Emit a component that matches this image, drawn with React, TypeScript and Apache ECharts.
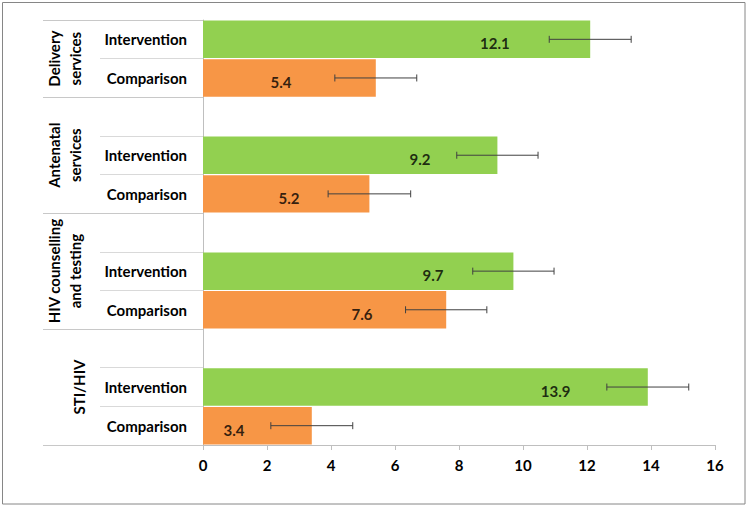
import React, { useEffect, useRef } from 'react';
import * as echarts from 'echarts';

// ---- data ----
const groups = ['Delivery\nservices', 'Antenatal\nservices', 'HIV counselling\nand testing', 'STI/HIV'];
const armLabels = ['Intervention', 'Comparison'];
const intervention = [12.1, 9.2, 9.7, 13.9];
const comparison = [5.4, 5.2, 7.6, 3.4];
const interventionErr = [1.28, 1.27, 1.27, 1.28];
const comparisonErr = [1.28, 1.29, 1.27, 1.28];
// x-value where each value label sits (as in the picture)
const interventionLabelAt = [9.12, 6.78, 7.19, 11.02];
const comparisonLabelAt = [2.44, 2.69, 4.97, 0.97];
const xMin = 0;
const xMax = 16;
const xInterval = 2;

const FONT = 'Lato';

export default function App() {
  const ref = useRef<HTMLDivElement>(null);

  useEffect(() => {
    document.body.style.margin = '0';
    if (!ref.current) return;
    const chart = echarts.init(ref.current, undefined, { renderer: 'svg' });

    const slotCount = groups.length * 3 - 1;
    const slots: string[] = new Array(slotCount).fill('');
    const intData: any[] = new Array(slotCount).fill('-');
    const compData: any[] = new Array(slotCount).fill('-');
    const errData: any[] = [];
    const labelData: any[] = [];
    groups.forEach((_, i) => {
      const si = 3 * i;
      const sc = 3 * i + 1;
      slots[si] = armLabels[0];
      slots[sc] = armLabels[1];
      intData[si] = intervention[i];
      compData[sc] = comparison[i];
      errData.push([intervention[i] - interventionErr[i], intervention[i] + interventionErr[i], si]);
      errData.push([comparison[i] - comparisonErr[i], comparison[i] + comparisonErr[i], sc]);
      labelData.push([interventionLabelAt[i], si, intervention[i]]);
      labelData.push([comparisonLabelAt[i], sc, comparison[i]]);
    });
    const boundaries = [0, ...groups.slice(1).map((_, i) => 3 * (i + 1) - 1), slotCount];
    const groupCenters = groups.map((_, i) => (boundaries[i] + boundaries[i + 1]) / 2);

    const option: any = {
      animation: false,
      backgroundColor: '#ffffff',
      textStyle: { fontFamily: FONT },
      graphic: [
        {
          type: 'rect',
          shape: { x: 2.5, y: 2.5, width: 742.5, height: 501.5 },
          style: { fill: 'none', stroke: '#868686', lineWidth: 1 },
          silent: true,
          z: -1,
        },
      ],
      grid: { left: 203, right: 33, top: 20, bottom: 61, containLabel: false, outerBoundsMode: 'none' },
      xAxis: {
        type: 'value',
        min: xMin,
        max: xMax,
        interval: xInterval,
        axisLine: { show: true, onZero: false, lineStyle: { color: '#bfbfbf', width: 1 } },
        axisTick: { show: true, length: 5, lineStyle: { color: '#bfbfbf' } },
        splitLine: { show: false },
        axisLabel: { fontFamily: FONT, fontWeight: 'bold', fontSize: 15, color: '#000', margin: 12 },
      },
      yAxis: [
        {
          type: 'category',
          inverse: true,
          data: slots,
          position: 'left',
          axisLine: { show: true, lineStyle: { color: '#bfbfbf' } },
          axisTick: { show: true, interval: 0, length: 103, lineStyle: { color: '#d9d9d9' } },
          axisLabel: { interval: 0, margin: 16, fontFamily: FONT, fontWeight: 'bold', fontSize: 15, color: '#000' },
        },
        {
          type: 'value',
          inverse: true,
          min: 0,
          max: slotCount,
          position: 'left',
          axisLine: { show: false },
          splitLine: { show: false },
          axisTick: { show: true, customValues: boundaries, length: 160, lineStyle: { color: '#c8c8c8' } },
          axisLabel: {
            customValues: groupCenters,
            rotate: 90,
            margin: 118,
            fontFamily: FONT,
            fontWeight: 'bold',
            fontSize: 15,
            lineHeight: 21,
            color: '#000',
            rich: {
              one: {
                fontFamily: FONT,
                fontWeight: 'bold',
                fontSize: 15,
                lineHeight: 21,
                color: '#000',
                padding: [9, 0, 0, 0],
              },
            },
            formatter: (v: number) => {
              const i = groupCenters.findIndex((c) => Math.abs(c - v) < 1e-6);
              if (i < 0) return '';
              const g = groups[i];
              return g.indexOf('\n') >= 0 ? g : '{one|' + g + '}';
            },
          },
        },
      ],
      series: [
        {
          name: 'Intervention',
          type: 'bar',
          yAxisIndex: 0,
          data: intData,
          barGap: '-100%',
          barCategoryGap: '3%',
          itemStyle: { color: '#92D050' },
        },
        {
          name: 'Comparison',
          type: 'bar',
          yAxisIndex: 0,
          data: compData,
          barGap: '-100%',
          barCategoryGap: '3%',
          itemStyle: { color: '#F79646' },
        },
        {
          type: 'custom',
          yAxisIndex: 0,
          data: errData,
          encode: { x: [0, 1], y: 2 },
          z: 5,
          renderItem: (params: any, api: any) => {
            const y = api.value(2);
            const lo = api.coord([api.value(0), y]);
            const hi = api.coord([api.value(1), y]);
            const h = 3.5;
            const style = { stroke: '#404040', lineWidth: 1 };
            return {
              type: 'group',
              children: [
                { type: 'line', shape: { x1: lo[0], y1: lo[1], x2: hi[0], y2: hi[1] }, style },
                { type: 'line', shape: { x1: lo[0], y1: lo[1] - h, x2: lo[0], y2: lo[1] + h }, style },
                { type: 'line', shape: { x1: hi[0], y1: hi[1] - h, x2: hi[0], y2: hi[1] + h }, style },
              ],
            };
          },
        },
        {
          type: 'scatter',
          yAxisIndex: 0,
          data: labelData,
          encode: { x: 0, y: 1 },
          symbolSize: 1,
          itemStyle: { color: 'rgba(0,0,0,0)' },
          z: 6,
          label: {
            show: true,
            position: 'inside',
            offset: [0, 4],
            formatter: (p: any) => Number(p.value[2]).toFixed(1),
            fontFamily: FONT,
            fontWeight: 'bold',
            fontSize: 15,
            color: '#000',
          },
        },
      ],
    };

    chart.setOption(option);
    return () => chart.dispose();
  }, []);

  return <div ref={ref} style={{ width: 748, height: 506 }} />;
}
